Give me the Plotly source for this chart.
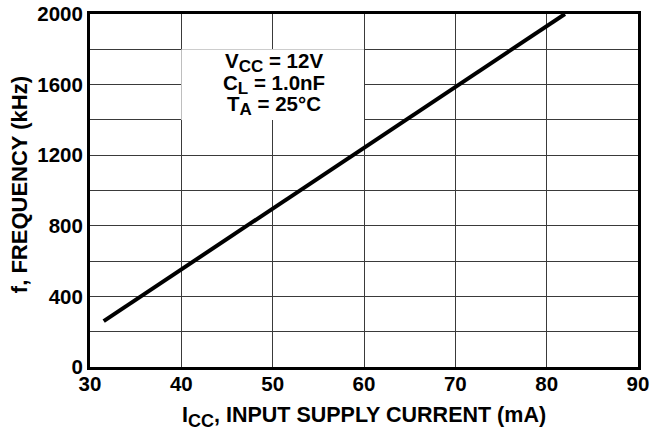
import plotly.graph_objects as go

FONT = "Liberation Sans, Arial, sans-serif"
INK = "#000000"
GRID = "#3a3a3a"

# supply current (mA) vs frequency (kHz)
icc_ma = [31.5, 40, 50, 60, 70, 82]
freq_khz = [260, 553, 898, 1242, 1587, 2000]

x_ticks = [30, 40, 50, 60, 70, 80, 90]
y_ticks = [0, 400, 800, 1200, 1600, 2000]


def sub(s, size=17):
    return f"<sub><span style='font-size:{size}px'>{s}</span></sub>"


conditions = [
    f"<b>V{sub('CC')} = 12V</b>",
    f"<b>C{sub('L')} = 1.0nF</b>",
    f"<b>T{sub('A')} = 25°C</b>",
]
cond_y = [1723, 1601, 1479]

fig = go.Figure(go.Scatter(
    x=icc_ma, y=freq_khz, mode="lines",
    line=dict(color=INK, width=4),
    hoverinfo="skip", showlegend=False,
))

# white box behind the test conditions, covering the grid cell
fig.add_shape(type="rect", x0=40, x1=60, y0=1400, y1=1800,
              xref="x", yref="y", fillcolor="white",
              line=dict(width=0), layer="above")
for txt, yy in zip(conditions, cond_y):
    fig.add_annotation(x=50.2, y=yy, xref="x", yref="y", text=txt,
                       showarrow=False, align="center", yanchor="middle",
                       font=dict(family=FONT, size=20.5, color=INK))

# axis titles
fig.add_annotation(x=0.5, y=-0.141, xref="paper", yref="paper",
                   text=f"<b>I{sub('CC', 18)}, INPUT SUPPLY CURRENT (mA)</b>",
                   showarrow=False, xanchor="center", yanchor="middle",
                   font=dict(family=FONT, size=21.5, color=INK))
fig.add_annotation(x=-0.1296, y=0.518, xref="paper", yref="paper",
                   text="<b>f, FREQUENCY (kHz)</b>", textangle=-90,
                   showarrow=False, xanchor="center", yanchor="middle",
                   font=dict(family=FONT, size=22, color=INK))

axis_common = dict(
    showline=True, linecolor=INK, linewidth=3, mirror=True,
    showgrid=True, gridcolor=GRID, gridwidth=1, zeroline=False,
    ticks="", automargin=False,
    tickfont=dict(family=FONT, size=20.5, color=INK),
)

fig.update_xaxes(
    range=[30, 90], tickvals=x_ticks,
    ticktext=[f"<b>{v}</b>" for v in x_ticks],
    ticklabelstandoff=-4,
    **axis_common,
)
fig.update_yaxes(
    range=[0, 2000], tickvals=y_ticks,
    ticktext=[f"<b>{v}</b>" for v in y_ticks],
    minor=dict(dtick=200, showgrid=True, gridcolor=GRID, gridwidth=1),
    **axis_common,
)

fig.update_layout(
    width=651, height=428,
    margin=dict(l=90, r=13, t=14, b=61),
    plot_bgcolor="white", paper_bgcolor="white",
    font=dict(family=FONT, color=INK, size=19),
)

# drop the browser's default page margin so the figure sits at 0,0
fig.write_html("out.html", config={"displayModeBar": False},
               post_script="document.body.style.margin='0';")
